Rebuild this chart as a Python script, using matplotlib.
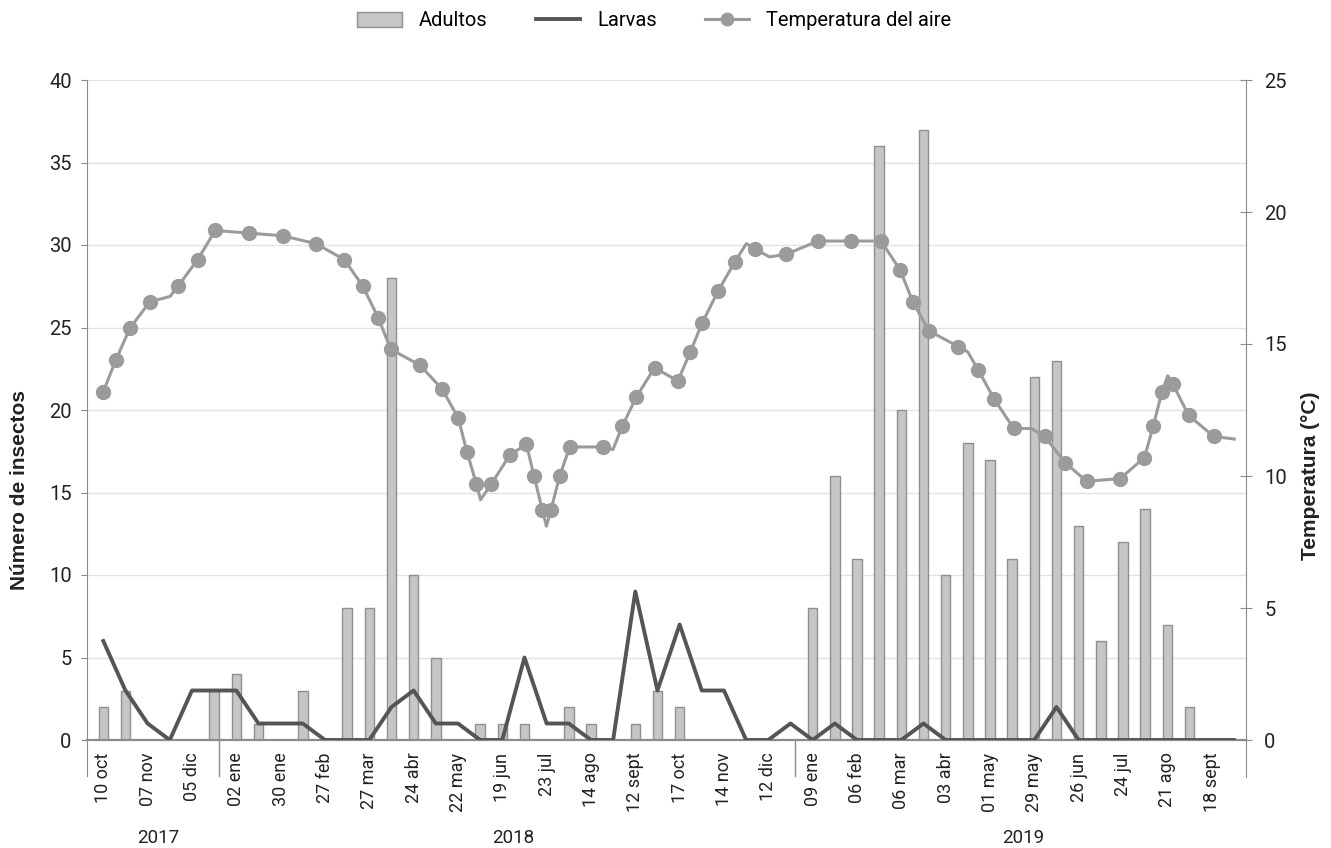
import matplotlib
matplotlib.use("Agg")
import matplotlib.pyplot as plt
from matplotlib.patches import Patch
from matplotlib.lines import Line2D
import numpy as np

# biweekly sampling dates (every other one is labelled)
tick_labels = ["10 oct", "07 nov", "05 dic", "02 ene", "30 ene", "27 feb", "27 mar",
               "24 abr", "22 may", "19 jun", "23 jul", "14 ago", "12 sept", "17 oct",
               "14 nov", "12 dic", "09 ene", "06 feb", "06 mar", "03 abr", "01 may",
               "29 may", "26 jun", "24 jul", "21 ago", "18 sept"]
years = ["2017", "2018", "2019"]
year_first = [0, 6, 32]
year_last = [5, 31, 51]

adultos = [2, 3, 0, 0, 0, 3, 4, 1, 0, 3, 0, 8, 8, 28, 10, 5, 0, 1, 1, 1, 0, 2, 1, 0, 1, 3,
           2, 0, 0, 0, 0, 0, 8, 16, 11, 36, 20, 37, 10, 18, 17, 11, 22, 23, 13, 6, 12, 14,
           7, 2, 0, 0]
larvas = [6, 3, 1, 0, 3, 3, 3, 1, 1, 1, 0, 0, 0, 2, 3, 1, 1, 0, 0, 5, 1, 1, 0, 0, 9, 3,
          7, 3, 3, 0, 0, 1, 0, 1, 0, 0, 0, 1, 0, 0, 0, 0, 0, 2, 0, 0, 0, 0, 0, 0, 0, 0]

# air temperature, position in sample units
temp_pos = [0.0, 0.57, 1.20, 2.10, 3.01, 3.38, 4.26, 5.05, 6.58, 8.09, 9.59, 10.87, 11.70,
            12.40, 12.97, 14.28, 15.28, 16.01, 16.41, 16.83, 17.02, 17.51, 18.34, 19.09,
            19.43, 19.81, 19.99, 20.19, 20.59, 21.04, 22.54, 22.99, 23.42, 24.05, 24.87,
            25.92, 26.48, 27.02, 27.73, 28.48, 29.01, 29.38, 30.06, 30.81, 32.24, 33.74,
            35.09, 35.95, 36.52, 37.24, 38.58, 39.0, 39.48, 40.20, 41.07, 41.86, 42.46,
            43.40, 44.36, 45.87, 46.97, 47.37, 47.76, 48.02, 48.24, 48.96, 50.09, 51.02]
temp_val = [13.2, 14.4, 15.6, 16.6, 16.8, 17.2, 18.2, 19.3, 19.2, 19.1, 18.8, 18.2, 17.2,
            16.0, 14.8, 14.2, 13.3, 12.2, 10.9, 9.7, 9.1, 9.7, 10.8, 11.2, 10.0, 8.7, 8.1,
            8.7, 10.0, 11.1, 11.1, 11.0, 11.9, 13.0, 14.1, 13.6, 14.7, 15.8, 17.0, 18.1,
            18.8, 18.6, 18.3, 18.4, 18.9, 18.9, 18.9, 17.8, 16.6, 15.5, 14.9, 14.7, 14.0,
            12.9, 11.8, 11.8, 11.5, 10.5, 9.8, 9.9, 10.7, 11.9, 13.2, 13.8, 13.5, 12.3,
            11.5, 11.4]
temp_unmarked = [4, 20, 26, 31, 40, 42, 51, 55, 63, 67]

AX_GREY = "#8c8c8c"
TXT = "#222222"
TICK_FONT = "Roboto"
LABEL_FONT = "Liberation Sans"

fig = plt.figure(figsize=(13.31, 8.48), dpi=100)
ax = fig.add_axes([87 / 1331, 108 / 848, 1159 / 1331, 660 / 848])
ax2 = ax.twinx()

x = np.arange(len(adultos))
ax.bar(x, adultos, width=0.43, color="#c6c6c6", edgecolor="#8f8f8f", linewidth=1, zorder=2)
ax.plot(x, larvas, color="#555555", lw=2.8, zorder=3)

marked = [i not in temp_unmarked for i in range(len(temp_pos))]
ax2.plot(temp_pos, temp_val, color="#9b9b9b", lw=2.2, marker="o", ms=10,
         markevery=marked, zorder=4)

ax.set_xlim(-0.735, 51.55)
ax.set_ylim(0, 40)
ax2.set_ylim(0, 25)

ax.set_yticks(range(0, 41, 5))
ax2.set_yticks(range(0, 26, 5))
ax.set_xticks(range(0, len(adultos), 2))
ax.set_xticklabels(tick_labels, rotation=90, ha="center", va="top")

ax.grid(axis="y", color="#e2e2e2", lw=1, zorder=0)
ax.set_axisbelow(True)

for s in ["top", "right"]:
    ax.spines[s].set_visible(False)
for s in ["top", "left", "bottom"]:
    ax2.spines[s].set_visible(False)
ax.spines["left"].set_color(AX_GREY)
ax.spines["left"].set_bounds(-2.2, 40)
ax.spines["bottom"].set_color(AX_GREY)
ax.spines["bottom"].set_linewidth(1.6)
ax2.spines["right"].set_color(AX_GREY)
ax2.spines["right"].set_bounds(-1.4, 25)

ax.tick_params(axis="y", length=4, color=AX_GREY, pad=7, labelsize=14.5, labelcolor=TXT)
ax.tick_params(axis="x", length=0, pad=9, labelsize=13, labelcolor=TXT)
ax2.tick_params(axis="y", direction="inout", length=8, color=AX_GREY, pad=9,
                labelsize=14.5, labelcolor=TXT)
for lab in ax.get_xticklabels() + ax.get_yticklabels() + ax2.get_yticklabels():
    lab.set_fontfamily(TICK_FONT)

# year group separators and labels
for last in year_last[:-1]:
    ax.plot([last + 0.2, last + 0.2], [0, -2.2], color=AX_GREY, lw=1, clip_on=False)
for name, a, b in zip(years, year_first, year_last):
    ax.text((a + b) / 2, -0.148, name, transform=ax.get_xaxis_transform(),
            ha="center", va="center", fontsize=13.5, family=TICK_FONT, color=TXT)

fig.text(0.015, 1 - 490 / 848, "Número de insectos", rotation=90, ha="center",
         va="center", fontsize=15, fontweight="bold", family=LABEL_FONT, color=TXT)
fig.text(1310 / 1331, 1 - 476 / 848, "Temperatura (°C)", rotation=90, ha="center",
         va="center", fontsize=15, fontweight="bold", family=LABEL_FONT, color=TXT)

handles = [Patch(facecolor="#c6c6c6", edgecolor="#8f8f8f", lw=1),
           Line2D([], [], color="#555555", lw=2.8),
           Line2D([], [], color="#9b9b9b", lw=2.2, marker="o", ms=9)]
fig.legend(handles, ["Adultos", "Larvas", "Temperatura del aire"], ncol=3,
           loc="center", bbox_to_anchor=(0.4917, 1 - 21 / 848), frameon=False,
           prop={"family": TICK_FONT, "size": 14.5}, handlelength=2.2,
           columnspacing=2.4, handletextpad=0.85)

fig.savefig("out.png", dpi=100)
